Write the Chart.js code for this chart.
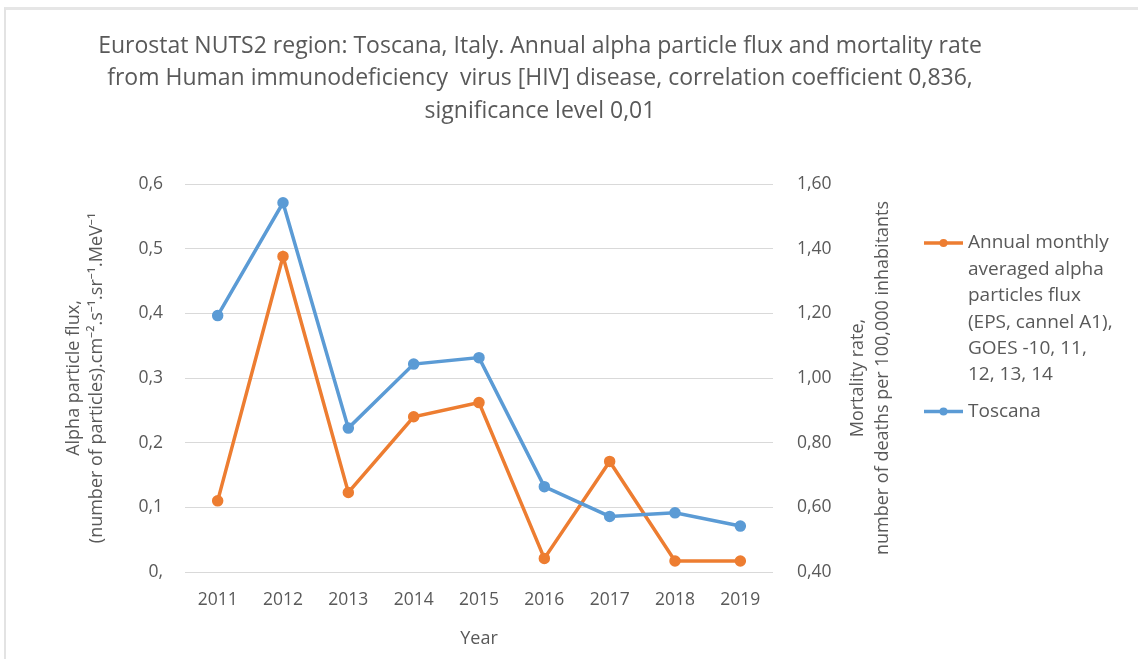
<!DOCTYPE html>
<html>
<head>
<meta charset="utf-8">
<script src="https://cdn.jsdelivr.net/npm/chart.js@4.4.1/dist/chart.umd.min.js"></script>
<style>
  body { margin: 0; background: #fff; }
  #wrap { position: relative; width: 1138px; height: 659px; }
  #frame { position: absolute; left: 4px; top: 7px; right: 0; bottom: 0;
           border-top: 3px solid #e6e6e6; border-left: 2px solid #e3e3e3; pointer-events: none; }
</style>
</head>
<body>
<div id="wrap">
  <canvas id="toscanaChart" width="1138" height="659"></canvas>
  <div id="frame"></div>
</div>
<script>
var years = [ '2011', '2012', '2013', '2014', '2015', '2016', '2017', '2018', '2019' ]

// alpha particle flux, left axis
var alphaFlux = [ 0.110, 0.488, 0.123, 0.240, 0.262, 0.021, 0.171, 0.017, 0.017 ]
// mortality rate per 100,000, right axis
var mortality = [ 1.193, 1.542, 0.845, 1.043, 1.063, 0.664, 0.572, 0.583, 0.542 ]

var leftTicks = [ '0,', '0,1', '0,2', '0,3', '0,4', '0,5', '0,6' ]
var rightTicks = [ '0,40', '0,60', '0,80', '1,00', '1,20', '1,40', '1,60' ]

var fluxName = [ 'Annual monthly', 'averaged alpha', 'particles flux', '(EPS, cannel A1),', 'GOES -10, 11,', '12, 13, 14' ]
var regionName = [ 'Toscana' ]

var titleLines = [
  'Eurostat NUTS2 region: Toscana, Italy. Annual alpha particle flux and mortality rate',
  'from Human immunodeficiency  virus [HIV] disease, correlation coefficient 0,836,',
  'significance level 0,01'
]
var leftTitle = [ 'Alpha particle flux,', '(number of particles).cm\u207B\u00B2.s\u207B\u00B9.sr\u207B\u00B9.MeV\u207B\u00B9' ]
var rightTitle = [ 'Mortality rate,', 'number of deaths per 100,000 inhabitants' ]

var textGrey = '#595959'
var fontFam = '"Open Sans", "Noto Sans", sans-serif'

var orange = '#ED7D31'
var blue = '#5B9BD5'

var flux_data = {
  label: fluxName.join(' '),
  data: alphaFlux,
  yAxisID: 'y',
  borderColor: orange,
  backgroundColor: orange,
  borderWidth: 3.5,
  pointRadius: 4,
  pointHoverRadius: 4,
  tension: 0,
  order: 2
}

var region_data = {
  label: regionName.join(' '),
  data: mortality,
  yAxisID: 'y1',
  borderColor: blue,
  backgroundColor: blue,
  borderWidth: 3.5,
  pointRadius: 4,
  pointHoverRadius: 4,
  tension: 0,
  order: 1
}

// right axis title (reads bottom to top) and wrapped legend
var sidePlugin = {
  id: 'sideText',
  afterDraw: function (chart) {
    var ctx = chart.ctx
    var area = chart.chartArea
    ctx.save()
    ctx.fillStyle = textGrey
    ctx.textBaseline = 'middle'

    // right axis title
    ctx.font = '18px ' + fontFam
    ctx.save()
    ctx.translate(area.right + 85, (area.top + area.bottom) / 2)
    ctx.rotate(-Math.PI / 2)
    ctx.textAlign = 'center'
    rightTitle.forEach(function (line, i) {
      ctx.fillText(line, 0, i * 25)
    })
    ctx.restore()

    // legend
    ctx.font = '19px ' + fontFam
    var entries = [ { lines: fluxName, color: orange }, { lines: regionName, color: blue } ]
    var y = 243
    var lh = 26.4
    ctx.textAlign = 'left'
    entries.forEach(function (e, k) {
      if (k > 0) y += 10
      ctx.strokeStyle = e.color
      ctx.lineWidth = 3.5
      ctx.beginPath()
      ctx.moveTo(924, y)
      ctx.lineTo(963, y)
      ctx.stroke()
      ctx.fillStyle = e.color
      ctx.beginPath()
      ctx.arc(943.5, y, 4, 0, Math.PI * 2)
      ctx.fill()
      ctx.fillStyle = textGrey
      e.lines.forEach(function (line) {
        ctx.fillText(line, 968, y)
        y += lh
      })
    })
    ctx.restore()
  }
}

var chartCanvas = document.getElementById('toscanaChart')

var lineChart = new Chart(chartCanvas, {
  type: 'line',
  data: {
    labels: years,
    datasets: [ flux_data, region_data ]
  },
  options: {
    responsive: false,
    animation: false,
    layout: { padding: { left: 0, right: 58, top: 0, bottom: 0 } },
    plugins: {
      legend: { display: false },
      tooltip: { enabled: false },
      title: {
        display: true,
        text: titleLines,
        color: textGrey,
        font: { family: fontFam, size: 23, weight: 'normal', lineHeight: '32.5px' },
        padding: { top: 30, bottom: 56.5 }
      }
    },
    scales: {
      x: {
        offset: true,
        grid: { display: false, drawTicks: false },
        border: { display: false },
        ticks: { color: textGrey, font: { family: fontFam, size: 17.5 }, padding: 18, maxRotation: 0 },
        title: {
          display: true,
          text: 'Year',
          color: textGrey,
          font: { family: fontFam, size: 18, lineHeight: 1.2 },
          padding: { top: 0, bottom: 9 }
        },
        afterFit: function (scale) { scale.height = 87 }
      },
      y: {
        position: 'left',
        min: 0,
        max: 0.6,
        ticks: {
          stepSize: 0.1,
          color: textGrey,
          font: { family: fontFam, size: 17.5 },
          padding: 22,
          callback: function (v, i) { return leftTicks[i] }
        },
        grid: { color: '#d9d9d9', lineWidth: 1, drawTicks: false },
        border: { display: false },
        title: {
          display: true,
          text: leftTitle,
          color: textGrey,
          font: { family: fontFam, size: 18, lineHeight: '23.5px' },
          padding: { top: 62, bottom: 0 }
        },
        afterFit: function (scale) { scale.width = 185 }
      },
      y1: {
        position: 'right',
        min: 0.4,
        max: 1.6,
        ticks: {
          stepSize: 0.2,
          color: textGrey,
          font: { family: fontFam, size: 17.5 },
          padding: 24,
          callback: function (v, i) { return rightTicks[i] }
        },
        grid: { display: false, drawTicks: false },
        border: { display: false },
        afterFit: function (scale) { scale.width = 307 }
      }
    }
  },
  plugins: [ sidePlugin ]
})
</script>
</body>
</html>
